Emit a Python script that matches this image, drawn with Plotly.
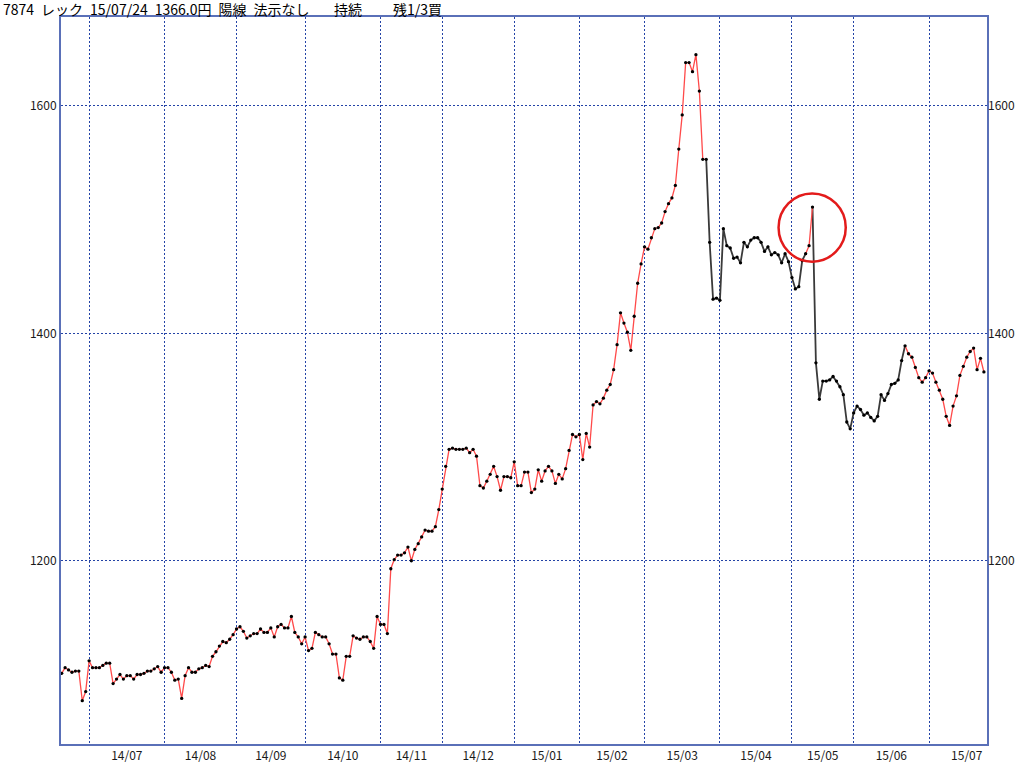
import plotly.graph_objects as go

# ---------------- data ----------------
title_main = "7874 レック 15/07/24 1366.0円 陽線 法示なし"
title_mid = "持続"
title_right = "残1/3買"

month_labels = ["14/07", "14/08", "14/09", "14/10", "14/11", "14/12",
                "15/01", "15/02", "15/03", "15/04", "15/05", "15/06", "15/07"]
# trading days in each labelled month
month_days = [22, 21, 20, 22, 18, 21, 19, 19, 22, 21, 18, 22, 22]
lead_days = 8  # trading days of 2014/06 shown before 14/07

close = [
    # 2014/06 (tail)
    1101, 1106, 1104, 1102, 1103, 1103, 1077, 1085,
    # 14/07
    1112, 1106, 1106, 1106, 1108, 1110, 1110, 1092, 1096, 1100, 1096,
    1099, 1099, 1096, 1100, 1100, 1101, 1103, 1103, 1105, 1107, 1102,
    # 14/08
    1106, 1106, 1102, 1095, 1096, 1079, 1099, 1106, 1102, 1102, 1105,
    1106, 1108, 1107, 1116, 1120, 1125, 1129, 1128, 1131, 1135,
    # 14/09
    1140, 1142, 1138, 1132, 1134, 1136, 1136, 1140, 1137, 1137, 1141,
    1133, 1142, 1144, 1141, 1141, 1151, 1137, 1133, 1127,
    # 14/10
    1133, 1121, 1123, 1137, 1135, 1133, 1133, 1127, 1118, 1118, 1097,
    1095, 1116, 1116, 1134, 1132, 1131, 1133, 1133, 1129, 1123, 1151,
    # 14/11
    1144, 1144, 1136, 1193, 1201, 1205, 1205, 1207, 1212, 1200, 1210,
    1215, 1221, 1227, 1226, 1226, 1230, 1245,
    # 14/12
    1263, 1283, 1298, 1299, 1298, 1298, 1298, 1299, 1295, 1298, 1292,
    1266, 1264, 1270, 1276, 1283, 1274, 1262, 1274, 1274, 1273,
    # 15/01
    1287, 1266, 1266, 1278, 1278, 1260, 1263, 1280, 1270, 1279, 1283,
    1279, 1268, 1276, 1272, 1281, 1297, 1311, 1309,
    # 15/02
    1311, 1289, 1312, 1300, 1337, 1340, 1338, 1343, 1350, 1355, 1368,
    1390, 1418, 1409, 1401, 1385, 1415, 1444, 1461,
    # 15/03
    1476, 1474, 1484, 1492, 1493, 1497, 1507, 1514, 1519, 1530, 1562,
    1592, 1638, 1638, 1630, 1645, 1613, 1553, 1553, 1480, 1430, 1431,
    # 15/04
    1429, 1492, 1477, 1475, 1466, 1467, 1462, 1480, 1476, 1482, 1484,
    1484, 1480, 1472, 1476, 1469, 1471, 1469, 1462, 1470, 1463,
    # 15/05
    1449, 1439, 1441, 1464, 1470, 1477, 1511, 1374, 1342, 1358, 1358,
    1359, 1362, 1358, 1353, 1346, 1322, 1316,
    # 15/06
    1330, 1336, 1333, 1328, 1330, 1326, 1323, 1327, 1346, 1341, 1347,
    1355, 1356, 1359, 1376, 1389, 1382, 1379, 1370, 1361, 1357, 1361,
    # 15/07
    1367, 1365, 1357, 1350, 1342, 1327, 1319, 1336, 1345, 1363, 1371,
    1379, 1384, 1387, 1368, 1378, 1366,
]

# index ranges (first, last point) where the line is drawn red
red_runs = [(0, 188), (217, 219), (246, 269)]
highlight_idx = 219  # circled point

# ---------------- derived ----------------
n = len(close)
idx = list(range(n))

month_starts = []
label_pos = []
s = lead_days
for d in month_days:
    month_starts.append(s)
    label_pos.append(s + d / 2.0)
    s += d

is_red_seg = [False] * (n - 1)
for a, b in red_runs:
    for j in range(a, b):
        is_red_seg[j] = True

red_y, blk_y = [], []
for i in range(n):
    left = is_red_seg[i - 1] if i > 0 else None
    right = is_red_seg[i] if i < n - 1 else None
    red_y.append(close[i] if (left is True or right is True) else None)
    blk_y.append(close[i] if (left is False or right is False) else None)

# ---------------- figure ----------------
FONT = "Noto Sans CJK JP"
GRID = "#2443A6"
BORDER = "#5A70B8"
TXT = "#1A1A1A"

fig = go.Figure()
fig.add_trace(go.Scatter(x=idx, y=blk_y, mode="lines",
                         line=dict(color="#3A3A3A", width=1.8),
                         connectgaps=False, hoverinfo="skip", showlegend=False))
fig.add_trace(go.Scatter(x=idx, y=red_y, mode="lines",
                         line=dict(color="#FF4A4A", width=1.3),
                         connectgaps=False, hoverinfo="skip", showlegend=False))
fig.add_trace(go.Scatter(x=idx, y=close, mode="markers",
                         marker=dict(color="#000000", size=3.3),
                         showlegend=False))
# helper so that the right-hand value axis is drawn
fig.add_trace(go.Scatter(x=[idx[-1]], y=[close[-1]], yaxis="y2", mode="markers",
                         marker=dict(opacity=0), hoverinfo="skip", showlegend=False))

yr = [1038.9, 1678.1]
fig.update_layout(
    width=1024, height=768,
    margin=dict(l=61, r=37, t=17, b=24, autoexpand=False),
    paper_bgcolor="white", plot_bgcolor="white",
    font=dict(family=FONT, size=12, color=TXT),
    xaxis=dict(
        range=[-0.2, n - 0.1], automargin=False,
        tickmode="array", tickvals=label_pos, ticktext=month_labels,
        showgrid=False, zeroline=False, ticks="",
        showline=True, mirror=True, linecolor=BORDER, linewidth=2,
        tickfont=dict(family=FONT, size=12, color=TXT),
        minor=dict(tickmode="array", tickvals=month_starts, showgrid=True,
                   gridcolor=GRID, griddash="2px,2px", gridwidth=1, ticks=""),
    ),
    yaxis=dict(
        range=yr, automargin=False, tickmode="array", tickvals=[1200, 1400, 1600],
        showgrid=True, gridcolor=GRID, griddash="2px,2px", gridwidth=1,
        zeroline=False, ticks="",
        showline=True, mirror=True, linecolor=BORDER, linewidth=2,
        tickfont=dict(family=FONT, size=12, color=TXT),
    ),
    yaxis2=dict(
        range=yr, automargin=False, overlaying="y", side="right", tickmode="array",
        tickvals=[1200, 1400, 1600], showgrid=False, zeroline=False, ticks="",
        showline=False,
        tickfont=dict(family=FONT, size=12, color=TXT),
    ),
)

# circle around highlighted point
cx = highlight_idx - 0.1
cy = close[highlight_idx] - 18
fig.add_shape(type="circle", xref="x", yref="y",
              x0=cx - 9.8, x1=cx + 9.8, y0=cy - 30, y1=cy + 30,
              line=dict(color="#E31B1B", width=2.5))

# header texts (pixel positions converted to paper coords)
def px_x(p):
    return (p - 61) / 926.0

def px_y(p):
    return (744 - p) / 727.0

for txt, xp in [(title_main, 1), (title_mid, 332), (title_right, 391)]:
    fig.add_annotation(text=txt.replace(" ", "\u2002"), xref="paper", yref="paper",
                       x=px_x(xp), y=px_y(9), xanchor="left", yanchor="middle",
                       showarrow=False, font=dict(family=FONT, size=14, color="#000000"))

fig.write_html(
    "out.html",
    config={"displayModeBar": False},
    post_script="document.body.style.margin='0px';document.body.style.overflow='hidden';",
)
